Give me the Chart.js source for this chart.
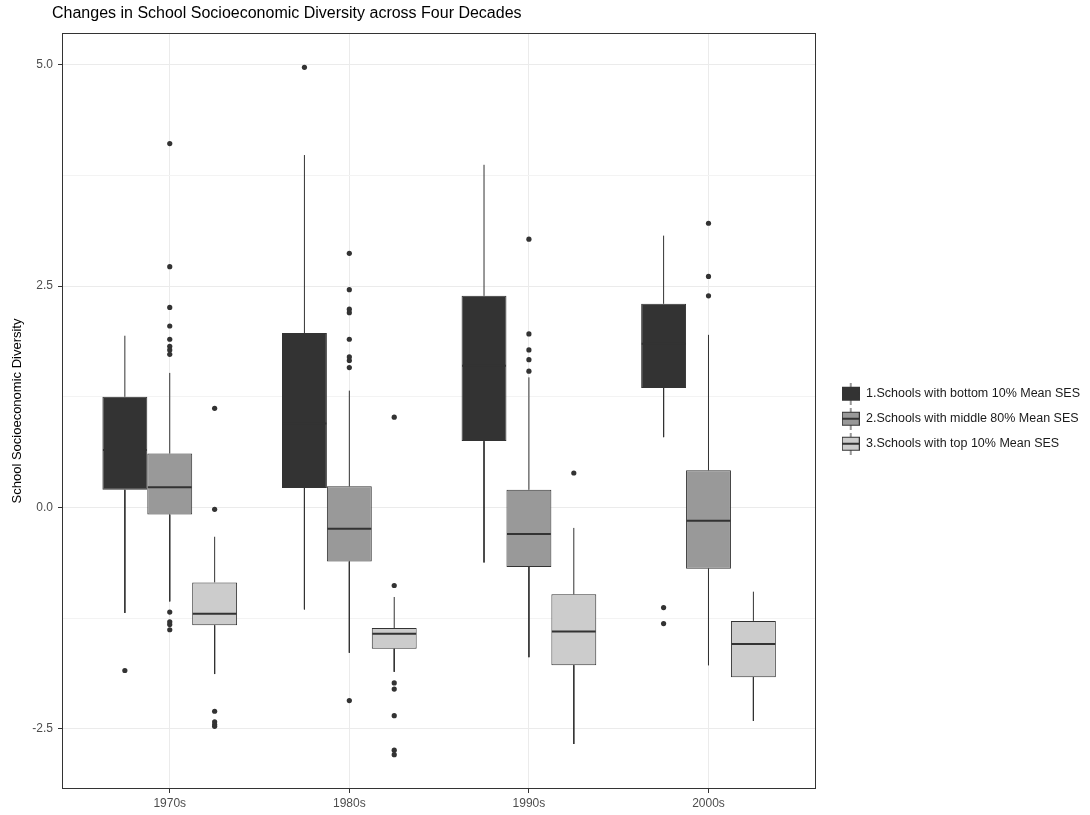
<!DOCTYPE html>
<html>
<head>
<meta charset="utf-8">
<script src="https://cdn.jsdelivr.net/npm/chart.js@4.4.1/dist/chart.umd.min.js"></script>
<style>
  html, body { margin: 0; padding: 0; background: #fff; }
  #wrap { width: 1090px; height: 815px; }
</style>
</head>
<body>
<div id="wrap"><canvas id="boxChart"></canvas></div>
<script>
const decades = ['1970s', '1980s', '1990s', '2000s'];
const groupNames = [
  '1.Schools with bottom 10% Mean SES',
  '2.Schools with middle 80% Mean SES',
  '3.Schools with top 10% Mean SES',
];

// one row per group, one value per decade
const q1Values = [
  [0.20, 0.22, 0.75, 1.35],
  [-0.08, -0.61, -0.67, -0.69],
  [-1.33, -1.595, -1.78, -1.915],
];
const medianValues = [
  [0.65, 0.95, 1.60, 1.85],
  [0.23, -0.24, -0.30, -0.15],
  [-1.20, -1.425, -1.40, -1.54],
];
const q3Values = [
  [1.25, 1.97, 2.39, 2.30],
  [0.61, 0.24, 0.20, 0.42],
  [-0.845, -1.36, -0.98, -1.28],
];
const whiskerLow = [
  [-1.19, -1.15, -0.62, 0.795],
  [-1.06, -1.64, -1.69, -1.78],
  [-1.88, -1.855, -2.67, -2.41],
];
const whiskerHigh = [
  [1.94, 3.98, 3.87, 3.07],
  [1.52, 1.32, 1.47, 1.95],
  [-0.33, -1.01, -0.23, -0.95],
];
const outlierValues = [
  [[-1.84], [4.97], [], [-1.13, -1.31]],
  [[4.11, 2.72, 2.26, 2.05, 1.90, 1.82, 1.78, 1.73, -1.18, -1.29, -1.32, -1.38],
   [2.87, 2.46, 2.24, 2.20, 1.90, 1.70, 1.66, 1.58, -2.18],
   [3.03, 1.96, 1.78, 1.67, 1.54],
   [3.21, 2.61, 2.39]],
  [[1.12, -0.02, -2.30, -2.42, -2.45, -2.47],
   [1.02, -0.88, -1.98, -2.05, -2.35, -2.74, -2.79],
   [0.39],
   []],
];
const yTickValues = [-2.5, -1.25, 0, 1.25, 2.5, 3.75, 5.0];

const fillColors = ['#333333', '#999999', '#cccccc'];
const ink = '#333333';
const FONT = "'Liberation Sans', Arial, sans-serif";
Chart.defaults.font.family = FONT;

const dodge = g => (g - 1) * 0.25;   // ggplot position_dodge, 3 boxes in 0.75
const isMajor = v => Math.abs(v / 2.5 - Math.round(v / 2.5)) < 1e-6;

// y limits like ggplot: data range + 5% each side
const allY = [whiskerLow, whiskerHigh, outlierValues].flat(3);
const yLo = Math.min(...allY), yHi = Math.max(...allY);
const yPad = (yHi - yLo) * 0.05;

const boxSets = groupNames.map((name, g) => ({
  type: 'bar',
  label: name,
  order: 2,
  data: decades.map((d, i) => ({ x: i + 1, y: [q1Values[g][i], q3Values[g][i]] })),
  backgroundColor: fillColors[g],
  borderColor: ink,
  borderWidth: 1,
  borderSkipped: false,
  barPercentage: 1,
  categoryPercentage: 0.75,
}));

const whiskerSets = groupNames.map((name, g) => ({
  type: 'line',
  label: 'whisker' + g,
  order: 3,
  data: decades.flatMap((d, i) => {
    const x = i + 1 + dodge(g);
    return [
      { x, y: q3Values[g][i] }, { x, y: whiskerHigh[g][i] }, { x, y: null },
      { x, y: q1Values[g][i] }, { x, y: whiskerLow[g][i] }, { x, y: null },
    ];
  }),
  borderColor: ink,
  borderWidth: 1,
  pointRadius: 0,
  spanGaps: false,
  fill: false,
}));

// median bar spans the box, kept just inside its border
const medianSets = groupNames.map((name, g) => ({
  type: 'line',
  label: 'median' + g,
  order: 0,
  data: decades.flatMap((d, i) => {
    const x = i + 1 + dodge(g);
    return [{ x: x - 0.122, y: medianValues[g][i] }, { x: x + 0.122, y: medianValues[g][i] }, { x, y: null }];
  }),
  borderColor: ink,
  borderWidth: 2,
  borderCapStyle: 'butt',
  pointRadius: 0,
  spanGaps: false,
  fill: false,
}));

const outlierSets = groupNames.map((name, g) => ({
  type: 'scatter',
  label: 'outliers' + g,
  order: 1,
  data: decades.flatMap((d, i) => outlierValues[g][i].map(v => ({ x: i + 1 + dodge(g), y: v }))),
  backgroundColor: ink,
  borderWidth: 0,
  pointRadius: 2.6,
}));

// legend key: small boxplot glyph
function keyGlyph(g) {
  const c = document.createElement('canvas');
  c.width = 18; c.height = 22;
  const k = c.getContext('2d');
  k.fillStyle = ink;
  k.fillRect(8.5, 0, 1, 22);
  k.fillStyle = fillColors[g];
  k.fillRect(0.5, 4.5, 17, 13);
  k.strokeStyle = ink;
  k.lineWidth = 1;
  k.strokeRect(0.5, 4.5, 17, 13);
  k.fillStyle = ink;
  k.fillRect(0.5, 10, 17, 2);
  return c;
}

const panelBorder = {
  id: 'panelBorder',
  afterLayout(chart) {
    // title sits a little left of the panel, like the original
    chart.titleBlock.left = chart.chartArea.left - 10;
  },
  afterDraw(chart) {
    const { left, top, right, bottom } = chart.chartArea;
    const ctx = chart.ctx;
    ctx.save();
    ctx.strokeStyle = ink;
    ctx.lineWidth = 1;
    ctx.strokeRect(Math.round(left) + 0.5, Math.round(top) + 0.5,
      Math.round(right - left) - 1, Math.round(bottom - top) - 1);
    ctx.restore();
  },
};

new Chart(document.getElementById('boxChart'), {
  type: 'bar',
  data: { datasets: [...boxSets, ...whiskerSets, ...medianSets, ...outlierSets] },
  plugins: [panelBorder],
  options: {
    responsive: true,
    maintainAspectRatio: false,
    animation: false,
    layout: { padding: { left: 6, right: 0, top: 0, bottom: 0 } },
    plugins: {
      tooltip: { enabled: false },
      title: {
        display: true,
        text: 'Changes in School Socioeconomic Diversity across Four Decades',
        align: 'start',
        color: '#000',
        font: { size: 16, weight: 'normal' },
        padding: { top: 4, bottom: 9.8 },
      },
      legend: {
        position: 'right',
        align: 'center',
        maxWidth: 300,
        title: { display: true, text: '', font: { size: 12 }, padding: { top: 4, bottom: 4 } },
        labels: {
          usePointStyle: true,
          pointStyleWidth: 18,
          padding: 12.5,
          color: '#1a1a1a',
          font: { size: 12.5 },
          generateLabels: () => groupNames.map((name, g) => ({
            text: name,
            pointStyle: keyGlyph(g),
            fillStyle: fillColors[g],
            strokeStyle: ink,
            fontColor: '#1a1a1a',
            lineWidth: 1,
            hidden: false,
            datasetIndex: g,
          })),
        },
      },
    },
    scales: {
      x: {
        type: 'linear',
        min: 0.4,
        max: 4.6,
        offset: false,
        afterBuildTicks: s => { s.ticks = decades.map((d, i) => ({ value: i + 1 })); },
        afterFit: s => { s.height = 26; },
        ticks: {
          callback: v => decades[Math.round(v) - 1] || '',
          color: '#4d4d4d',
          font: { size: 12 },
          padding: 3,
          maxRotation: 0,
          autoSkip: false,
        },
        grid: { offset: false, color: '#ebebeb', lineWidth: 1, tickColor: ink, tickLength: 4 },
        border: { display: false },
      },
      y: {
        type: 'linear',
        min: yLo - yPad,
        max: yHi + yPad,
        afterBuildTicks: s => { s.ticks = yTickValues.map(v => ({ value: v })); },
        afterFit: s => { s.width = 56; },
        ticks: {
          callback: v => isMajor(v) ? v.toFixed(1) : '',
          color: '#4d4d4d',
          font: { size: 12 },
          padding: 5,
        },
        grid: {
          color: ctx => isMajor(ctx.tick.value) ? '#ebebeb' : '#f3f3f3',
          lineWidth: 1,
          tickColor: ctx => isMajor(ctx.tick.value) ? ink : 'rgba(0,0,0,0)',
          tickLength: 4,
        },
        border: { display: false },
        title: {
          display: true,
          text: 'School Socioeconomic Diversity',
          color: '#000',
          font: { size: 13 },
          padding: { top: 4, bottom: 0 },
        },
      },
      gap: {
        position: 'right',
        display: true,
        afterFit: s => { s.width = 13; },
        ticks: { display: false },
        grid: { display: false },
        border: { display: false },
      },
    },
  },
});
</script>
</body>
</html>
